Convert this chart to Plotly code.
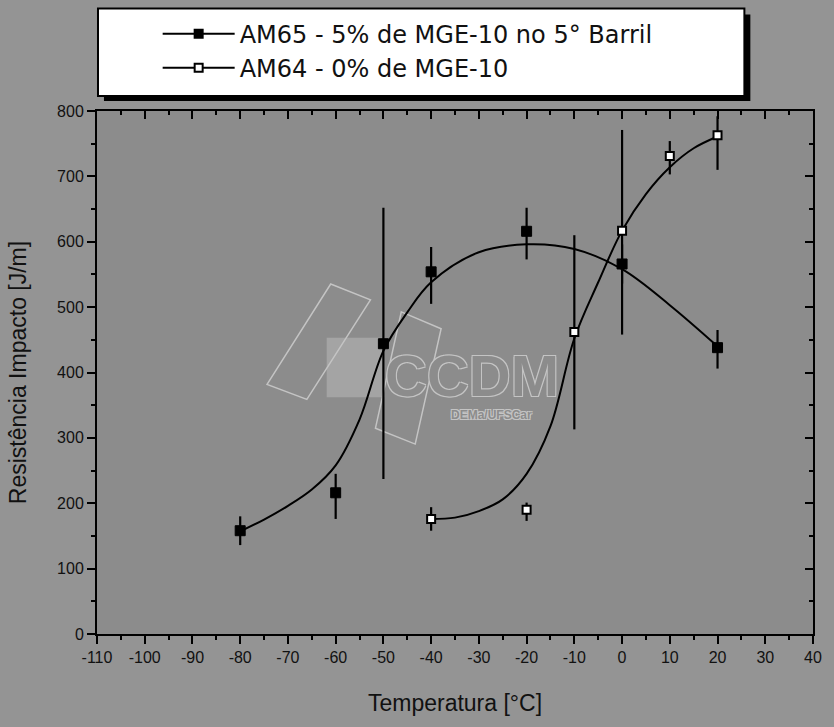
import plotly.graph_objects as go

# ---------------- data ----------------
temp_am65 = [-80, -60, -50, -40, -20, 0, 20]
imp_am65 = [158, 216, 444, 554, 616, 566, 438]
err_am65_plus = [22, 29, 208, 38, 36, 30, 27]
err_am65_minus = [22, 40, 207, 49, 43, 30, 32]

temp_am64 = [-40, -20, -10, 0, 10, 20]
imp_am64 = [176, 190, 462, 617, 731, 763]
err_am64_plus = [18, 11, 148, 154, 23, 29]
err_am64_minus = [18, 17, 149, 159, 28, 53]

# fitted curves as drawn in the picture
fit_temp_am65 = [-80, -75, -70, -65, -60, -55, -50, -45, -40, -30, -20, -10, 0, 10, 20]
fit_imp_am65 = [157, 175, 196, 221, 258, 328, 433, 492, 538, 584, 596, 589, 558, 503, 440]

fit_temp_am64 = [-40, -35, -30, -25, -20, -15, -10, -5, 0, 5, 10, 15, 20]
fit_imp_am64 = [176, 178, 188, 206, 245, 318, 452, 538, 617, 673, 714, 743, 761]

name_am65 = "AM65 - 5% de MGE-10 no 5° Barril"
name_am64 = "AM64 - 0% de MGE-10"

x_tickvals = [-110, -100, -90, -80, -70, -60, -50, -40, -30, -20, -10, 0, 10, 20, 30, 40]
x_ticktext = ["-110", "-100", "-90", "-80", "-70", "-60", "-50", "-40", "-30", "-20",
              "-10", "0", "10", "20", "30", "40"]
y_tickvals = [0, 100, 200, 300, 400, 500, 600, 700, 800]
y_ticktext = ["0", "100", "200", "300", "400", "500", "600", "700", "800"]

x_title = "Temperatura [°C]"
y_title = "Resistência Impacto [J/m]"

# ---------------- figure ----------------
W, H = 834, 727
L, R, T, B = 97, 17, 108, 93
PW, PH = W - L - R, H - T - B


def px(x):
    return (x - L) / PW


def py(y):
    return (H - B - y) / PH


PAPER_BG = "#949494"
PLOT_BG = "#8c8c8c"
WM = "#c4c4c4"

fig = go.Figure()

# fitted curves
fig.add_trace(go.Scatter(x=fit_temp_am65, y=fit_imp_am65, mode="lines",
                         line=dict(color="black", width=2, shape="spline", smoothing=1.0),
                         showlegend=False, hoverinfo="skip"))
fig.add_trace(go.Scatter(x=fit_temp_am64, y=fit_imp_am64, mode="lines",
                         line=dict(color="black", width=2, shape="spline", smoothing=1.0),
                         showlegend=False, hoverinfo="skip"))

# measured points with error bars
fig.add_trace(go.Scatter(
    x=temp_am65, y=imp_am65, mode="markers",
    marker=dict(symbol="square", size=10, color="black", line=dict(color="black", width=1)),
    error_y=dict(type="data", array=err_am65_plus, arrayminus=err_am65_minus, symmetric=False,
                 color="black", thickness=2.2, width=0),
    showlegend=False))
fig.add_trace(go.Scatter(
    x=temp_am64, y=imp_am64, mode="markers",
    marker=dict(symbol="square", size=8, color="white", line=dict(color="black", width=2)),
    error_y=dict(type="data", array=err_am64_plus, arrayminus=err_am64_minus, symmetric=False,
                 color="black", thickness=2.2, width=0),
    showlegend=False))

# legend entries
fig.add_trace(go.Scatter(x=[None], y=[None], mode="lines+markers", name=name_am65, legendgroup="a",
                         line=dict(color="black", width=2),
                         marker=dict(symbol="square", size=10, color="black")))
fig.add_trace(go.Scatter(x=[None], y=[None], mode="lines+markers", name=name_am64, legendgroup="b",
                         line=dict(color="black", width=2),
                         marker=dict(symbol="square", size=8, color="white", line=dict(color="black", width=2))))

# dummy trace so the mirrored (top / right) axes are drawn
fig.add_trace(go.Scatter(x=[None], y=[None], xaxis="x2", yaxis="y2", showlegend=False, hoverinfo="skip"))

tick_font = dict(family="Liberation Sans, Arial, sans-serif", size=16, color="#111111")
title_font = dict(family="Liberation Sans, Arial, sans-serif", size=23, color="#111111")

fig.update_layout(
    width=W, height=H,
    margin=dict(l=L, r=R, t=T, b=B),
    paper_bgcolor=PAPER_BG, plot_bgcolor=PLOT_BG,
    showlegend=True,
    legend=dict(x=px(158), y=py(8), xanchor="left", yanchor="top",
                bgcolor="rgba(0,0,0,0)", borderwidth=0,
                font=dict(family="DejaVu Sans, sans-serif", size=24, color="#111111"),
                itemwidth=72, tracegroupgap=0),
    xaxis=dict(range=[-110, 40], tickmode="array", tickvals=x_tickvals, ticktext=x_ticktext,
               ticks="outside", ticklen=8, tickwidth=2, tickcolor="black",
               minor=dict(ticks="outside", ticklen=4, tickwidth=1.5, tickcolor="black", tick0=-110, dtick=5),
               showline=True, linecolor="black", linewidth=2, showgrid=False, zeroline=False,
               tickfont=tick_font, title=dict(text=x_title, font=title_font, standoff=30)),
    yaxis=dict(range=[0, 800], tickmode="array", tickvals=y_tickvals, ticktext=y_ticktext,
               ticks="outside", ticklen=8, tickwidth=2, tickcolor="black",
               minor=dict(ticks="outside", ticklen=4, tickwidth=1.5, tickcolor="black", tick0=0, dtick=50),
               showline=True, linecolor="black", linewidth=2, showgrid=False, zeroline=False,
               tickfont=tick_font, title=dict(text=y_title, font=title_font, standoff=24)),
    xaxis2=dict(range=[-110, 40], overlaying="x", side="top", anchor="y",
                tickmode="array", tickvals=x_tickvals, showticklabels=False,
                ticks="inside", ticklen=8, tickwidth=2, tickcolor="black",
                minor=dict(ticks="inside", ticklen=4, tickwidth=1.5, tickcolor="black", tick0=-110, dtick=5),
                showline=True, linecolor="black", linewidth=2, showgrid=False, zeroline=False),
    yaxis2=dict(range=[0, 800], overlaying="y", side="right", anchor="x",
                tickmode="array", tickvals=y_tickvals, showticklabels=False,
                ticks="inside", ticklen=8, tickwidth=2, tickcolor="black",
                minor=dict(ticks="inside", ticklen=4, tickwidth=1.5, tickcolor="black", tick0=0, dtick=50),
                showline=True, linecolor="black", linewidth=2, showgrid=False, zeroline=False),
)

shapes = []
# legend box with drop shadow
shapes.append(dict(type="rect", xref="paper", yref="paper", x0=px(104), x1=px(754), y0=py(98), y1=py(11),
                   fillcolor="black", line=dict(width=0), layer="above"))
shapes.append(dict(type="rect", xref="paper", yref="paper", x0=px(98), x1=px(748), y0=py(93), y1=py(5),
                   fillcolor="white", line=dict(color="black", width=2), layer="above"))


# watermark (CCDM logo)
def poly(pts):
    return "M " + " L ".join(f"{px(a):.4f},{py(b):.4f}" for a, b in pts) + " Z"


shapes.append(dict(type="path", xref="paper", yref="paper", layer="below",
                   path=poly([(328, 336), (386, 336), (386, 396), (328, 396)]),
                   fillcolor="#a4a4a4", line=dict(width=0)))
shapes.append(dict(type="path", xref="paper", yref="paper", layer="below",
                   path=poly([(332, 282), (372, 298), (308, 398), (268, 383)]),
                   fillcolor="rgba(0,0,0,0)", line=dict(color=WM, width=1.5)))
shapes.append(dict(type="path", xref="paper", yref="paper", layer="below",
                   path=poly([(403, 310), (443, 327), (417, 443), (377, 427)]),
                   fillcolor="rgba(0,0,0,0)", line=dict(color=WM, width=1.5)))
fig.update_layout(shapes=shapes)

outline = f"1px 1px 0 {WM}, -1px -1px 0 {WM}, 1px -1px 0 {WM}, -1px 1px 0 {WM}"
fig.add_annotation(xref="paper", yref="paper", x=px(474), y=py(374), text="<b>CCDM</b>", showarrow=False,
                   font=dict(family="Liberation Sans, Arial", size=58, color=PLOT_BG, shadow=outline))
fig.add_annotation(xref="paper", yref="paper", x=px(494), y=py(414), text="<b>DEMa/UFSCar</b>", showarrow=False,
                   font=dict(family="Liberation Sans, Arial", size=12, color=PLOT_BG, shadow=outline))

fig.write_html("out.html", config={"displayModeBar": False},
               post_script="document.body.style.margin='0';")
